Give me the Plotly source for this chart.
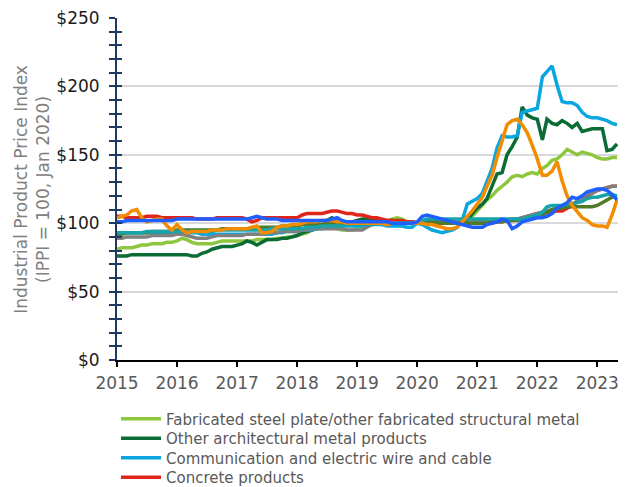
import pandas as pd
import plotly.graph_objects as go

dates = pd.date_range("2015-01-01", periods=101, freq="MS")

fab_steel = [81,82,82,82,83,84,84,85,85,85,86,86,
             87,89,88,86,85,85,85,85,86,87,87,87,
             87,87,87,87,88,88,88,88,89,89,90,90,
             91,92,93,95,96,97,97,97,96,95,95,95,
             96,97,98,99,100,100,101,103,104,103,101,100,
             100,100,101,101,101,101,101,102,102,102,103,105,
             109,113,117,120,124,127,130,134,135,134,136,137,
             136,140,142,146,147,150,154,152,150,152,151,150,
             148,147,147,148,148]

arch_metal = [76,76,76,77,77,77,77,77,77,77,77,77,
              77,77,77,76,76,78,79,81,82,83,83,83,
              84,85,87,86,84,86,88,88,88,89,89,90,
              91,93,94,95,96,98,102,104,102,101,100,101,
              102,103,103,103,103,102,102,102,101,101,101,101,
              100,101,101,101,101,100,100,100,100,100,102,107,
              111,114,118,127,136,137,150,156,163,185,179,177,
              176,161,176,173,172,175,173,170,173,167,168,169,
              169,169,153,154,158]

wire_cable = [93,93,93,93,93,93,93,93,93,93,93,93,
              93,93,93,93,93,92,92,92,92,92,92,92,
              92,92,92,92,92,92,92,92,93,93,94,94,
              94,95,95,95,96,96,97,97,97,98,98,98,
              98,98,99,99,99,99,98,98,98,98,97,97,
              100,99,97,95,94,93,94,95,97,102,114,116,
              118,122,130,140,155,164,163,163,164,181,182,183,
              184,207,211,215,201,189,188,188,186,181,178,177,
              177,176,175,173,172]

concrete = [105,105,104,104,104,104,105,105,105,104,104,104,
            104,104,104,104,103,103,103,103,104,104,104,104,
            104,104,103,101,102,104,104,104,104,104,104,104,
            104,106,107,107,107,107,108,109,109,108,107,107,
            106,106,105,104,104,103,102,102,102,102,101,101,
            100,100,100,100,100,100,100,100,100,100,100,100,
            100,100,100,100,101,101,102,102,103,104,105,106,
            107,107,108,108,109,109,111,113,116,118,120,122,
            124,125,126,127,127]

orange_series = [104,105,106,109,110,104,101,102,103,103,98,95,
                 99,95,93,94,94,94,94,95,95,95,96,96,
                 96,96,96,97,98,93,93,94,97,98,98,99,
                 99,100,101,101,101,102,102,102,101,101,100,100,
                 100,100,100,100,100,100,99,100,100,100,100,100,
                 100,100,99,99,98,97,96,96,97,101,105,109,
                 114,119,127,135,148,161,172,175,176,172,166,157,
                 147,135,135,138,145,131,120,113,108,104,102,99,
                 98,98,97,106,117]

grey_series = [89,89,90,90,90,90,90,91,91,91,91,91,
               92,92,91,90,89,89,89,90,91,91,91,91,
               91,91,92,92,92,92,93,93,93,94,94,94,
               94,95,95,96,96,96,96,96,96,96,95,95,
               95,95,97,99,100,100,100,100,100,100,100,100,
               100,100,100,100,100,100,100,100,100,100,100,101,
               101,101,101,101,102,102,102,103,103,104,105,106,
               107,108,109,110,111,112,113,114,116,119,121,122,
               124,125,126,127,127]

olive_series = [92,92,93,93,93,93,93,94,94,94,94,94,
                95,95,95,95,95,95,95,95,95,96,96,96,
                96,96,96,96,97,97,97,97,97,98,98,98,
                98,99,99,99,99,99,100,100,100,100,100,100,
                100,100,100,100,100,100,100,100,100,100,100,100,
                100,100,100,100,100,100,100,100,100,100,100,100,
                100,100,100,101,101,101,102,102,102,103,103,104,
                105,106,108,110,111,111,112,112,112,112,112,112,
                113,115,117,119,120]

teal_series = [93,93,93,93,93,93,94,94,94,94,94,94,
               94,94,94,94,94,94,94,94,95,95,95,95,
               95,95,95,95,95,95,95,96,96,96,96,96,
               96,96,97,97,97,98,98,98,98,98,99,99,
               99,99,99,99,100,100,100,100,100,100,100,100,
               100,102,103,103,103,103,103,103,103,103,103,103,
               103,103,103,103,103,103,103,103,103,103,104,105,
               106,108,112,113,113,113,114,114,115,116,118,119,
               119,120,121,121,120]

blue_series = [101,101,102,102,102,102,102,102,102,102,102,102,
               103,103,103,103,103,103,103,103,103,103,103,103,
               103,103,103,104,105,104,103,103,103,102,102,102,
               102,102,102,102,102,102,102,103,104,102,101,101,
               101,101,101,101,101,101,101,100,100,100,100,100,
               101,105,106,105,104,103,102,101,100,99,98,97,
               97,97,99,100,101,103,102,96,98,101,102,103,
               104,104,105,107,111,113,115,119,118,120,123,124,
               125,125,124,121,117]

y_ticks = [0, 50, 100, 150, 200, 250]

# name, values, colour, legend id (None = not in legend)
series = [
    ("Fabricated steel plate/other fabricated structural metal", fab_steel, "#8DC63F", "legend"),
    ("Other architectural metal products", arch_metal, "#0A6B35", "legend2"),
    ("Communication and electric wire and cable", wire_cable, "#0AA6E0", "legend3"),
    ("Concrete products", concrete, "#E1251B", "legend4"),
    ("Grey series", grey_series, "#808080", None),
    ("Olive series", olive_series, "#4F7A28", None),
    ("Teal series", teal_series, "#17A3AA", None),
    ("Orange series", orange_series, "#F28C00", None),
]

NAVY = "#1F3A60"
fig = go.Figure()
for name, vals, color, leg in series:
    kw = dict(showlegend=False) if leg is None else dict(showlegend=True, legend=leg)
    fig.add_trace(go.Scatter(x=dates, y=vals, name=name, mode="lines",
                             line=dict(color=color, width=3.5), **kw))
fig.add_trace(go.Scatter(x=dates, y=blue_series, name="Blue series", mode="lines",
                         line=dict(color="#1F5EFF", width=3.5), showlegend=False,
                         yaxis="y2"))

H = 487.0
row_centers = [418.5, 438, 457.5, 477]
legend_common = dict(xref="container", yref="container", x=0.185, xanchor="left",
                     yanchor="top", itemwidth=40, bgcolor="rgba(0,0,0,0)",
                     font=dict(family="DejaVu Sans", size=15, color="#595959"))
legends = {}
for i, key in enumerate(["legend", "legend2", "legend3", "legend4"]):
    legends[key] = dict(legend_common, y=1 - (row_centers[i] - 16) / H)

fig.update_layout(
    width=627, height=487,
    margin=dict(l=117, r=9, t=18, b=127, autoexpand=False),
    paper_bgcolor="white", plot_bgcolor="white",
    font=dict(family="DejaVu Sans", size=15, color="#595959"),
    xaxis=dict(type="date", range=["2015-01-01", "2023-05-07"],
               tick0="2015-01-01", dtick="M12", tickformat="%Y",
               showline=True, linecolor="black", linewidth=2,
               ticks="outside", ticklen=5, tickcolor="black", tickwidth=1.5,
               showgrid=False, zeroline=False, automargin=False,
               ticklabelstandoff=2,
               tickfont=dict(family="DejaVu Sans", size=17, color="#595959")),
    yaxis=dict(range=[0, 250], tickvals=y_ticks,
               ticktext=["$" + str(v) for v in y_ticks],
               showline=True, linecolor=NAVY, linewidth=2,
               ticks="outside", ticklen=6, tickcolor=NAVY, tickwidth=1.5,
               minor=dict(ticks="outside", dtick=10, tick0=0, ticklen=6,
                          tickcolor=NAVY, tickwidth=1.5, showgrid=False),
               showgrid=True, gridcolor="#D9D9D9", gridwidth=1.5,
               zeroline=False, automargin=False, ticklabelstandoff=6,
               tickfont=dict(family="DejaVu Sans", size=17, color="#1a1a1a")),
    yaxis2=dict(overlaying="y", anchor="x", side="left", range=[0, 250],
                tickvals=y_ticks, showticklabels=False, automargin=False,
                ticks="inside", ticklen=5, tickcolor=NAVY, tickwidth=1.5,
                minor=dict(ticks="inside", dtick=10, tick0=0, ticklen=5,
                           tickcolor=NAVY, tickwidth=1.5, showgrid=False),
                showgrid=False, zeroline=False, showline=False),
    annotations=[dict(text="Industrial Product Price Index<br>(IPPI = 100, Jan 2020)",
                      xref="paper", yref="paper", x=-0.17, y=0.5,
                      xanchor="center", yanchor="middle", textangle=-90,
                      showarrow=False,
                      font=dict(family="DejaVu Sans", size=17, color="#808080"))],
    **legends,
)

fig.write_html("out.html", config={"displayModeBar": False},
               post_script="document.body.style.margin='0';document.body.style.overflow='hidden';")
